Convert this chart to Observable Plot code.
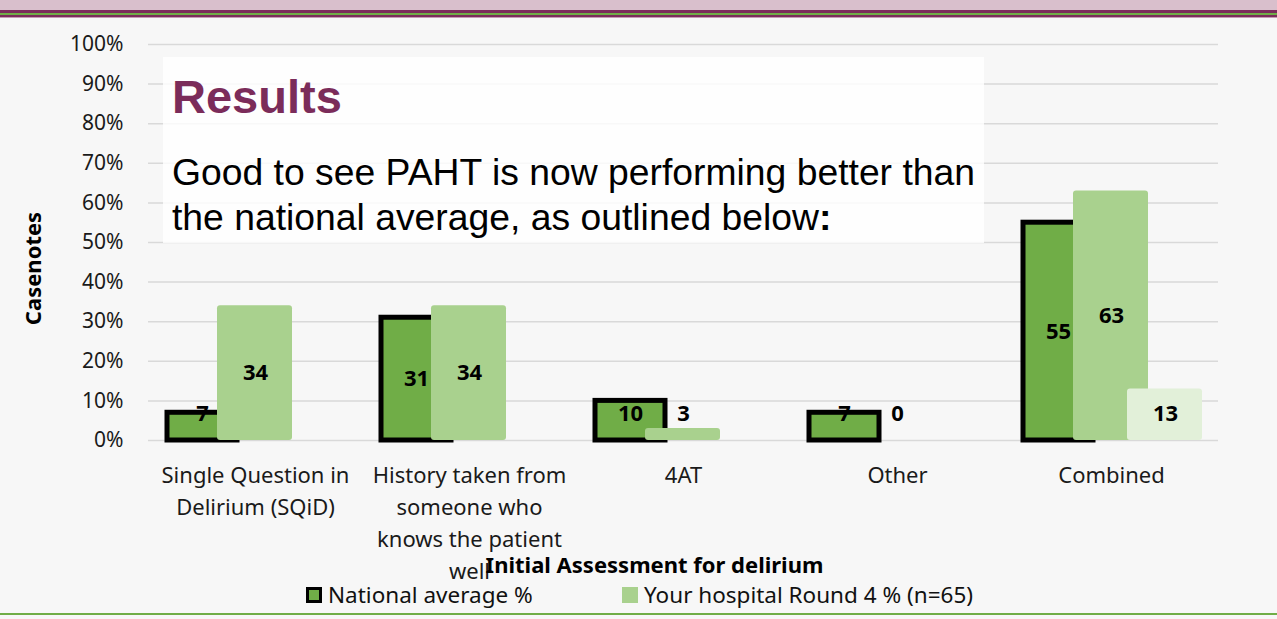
<!DOCTYPE html>
<html><head><meta charset="utf-8">
<script src="https://cdn.jsdelivr.net/npm/d3@7"></script>
<script src="https://cdn.jsdelivr.net/npm/@observablehq/plot@0.6"></script>
<style>
html,body{margin:0;padding:0;background:#f7f7f7;}
#wrap{position:relative;width:1277px;height:619px;overflow:hidden;background:#f7f7f7;font-family:"Noto Sans",sans-serif;color:#1a1a1a;}
#chart{position:absolute;left:0;top:0;}
#band{position:absolute;left:0;top:0;width:1277px;height:19px;
 background:linear-gradient(to bottom,#d9bfcc 0,#d9bfcc 10px,#7b2c5a 10px,#7b2c5a 13px,#70ad47 13px,#70ad47 15px,#7b2c5a 15px,#7b2c5a 17px,#c59ab2 17px,#c59ab2 18.5px,transparent 18.5px);}
#bottomline{position:absolute;left:0;top:612.5px;width:1277px;height:2.5px;background:#70ad47;}
#overlay{position:absolute;left:163px;top:57px;}
#legend{position:absolute;top:582.5px;left:0;width:1277px;height:24px;font-size:22.5px;line-height:24px;color:#111;}
.li{position:absolute;top:0;display:flex;align-items:center;white-space:nowrap;}
.sw{display:inline-block;width:16px;height:16px;box-sizing:border-box;margin-right:6px;}
</style></head><body>
<div id="wrap">
 <div id="chart"></div>
 <div id="band"></div>
 <svg id="overlay" width="821" height="186">
  <rect x="0" y="0" width="821" height="186" fill="#ffffff" fill-opacity="0.82"></rect>
  <text x="9" y="56" font-family="Liberation Sans, Arial, sans-serif" font-weight="bold" font-size="47" fill="#7b2c5a">Results</text>
  <text x="9" y="128" font-family="Liberation Sans, Arial, sans-serif" font-size="37.3" fill="#000">Good to see PAHT is now performing better than</text>
  <text x="9" y="173" font-family="Liberation Sans, Arial, sans-serif" font-size="37.3" fill="#000">the national average, as outlined below<tspan font-weight="bold">:</tspan></text>
 </svg>
 <div id="legend"></div>
 <div id="bottomline"></div>
</div>
<script>
// ---- data ----
const categories = ["SQiD", "History", "4AT", "Other", "Combined"];
const tickLabels = [
  "Single Question in\nDelirium (SQiD)",
  "History taken from\nsomeone who\nknows the patient\nwell",
  "4AT",
  "Other",
  "Combined"
];
const national = [7, 31, 10, 7, 55];
const hospital = [34, 34, 3, 0, 63];
const combinedExtra = [null, null, null, null, 13];
const yTicks = [0, 10, 20, 30, 40, 50, 60, 70, 80, 90, 100];
const seriesNames = ["National average %", "Your hospital Round 4 % (n=65)"];
const xTitle = "Initial Assessment for delirium";
const yTitle = "Casenotes";

// ---- build ----
const rows = (vals) => categories.map((c, i) => ({cat: c, v: vals[i]})).filter(d => d.v != null);
const nat = rows(national), hos = rows(hospital), ext = rows(combinedExtra);
const labelY = d => Math.max(d.v / 2, 6.6);
const lab = {fontWeight: "bold", fontSize: 22, fill: "#000", text: d => String(d.v), y: labelY, x: "cat"};

const chart = Plot.plot({
  width: 1277, height: 578,
  marginLeft: 148, marginRight: 59, marginTop: 44, marginBottom: 138,
  style: {background: "transparent", fontFamily: "Noto Sans", color: "#1a1a1a", overflow: "visible"},
  x: {domain: categories, padding: 0, label: null},
  y: {domain: [0, 100], label: null},
  marks: [
    Plot.ruleY(yTicks, {stroke: "#d9d9d9", strokeWidth: 1.5}),
    Plot.axisY({ticks: yTicks, tickSize: 0, tickPadding: 25, tickFormat: d => d + "%", fontSize: 21, label: null}),
    Plot.axisX({tickSize: 0, tickPadding: 19.5, tickFormat: d => tickLabels[categories.indexOf(d)], fontSize: 22, lineHeight: 1.4545, label: null}),
    Plot.barY(nat, {x: "cat", y: "v", fill: "#70ad47", stroke: "#000", strokeWidth: 5, insetLeft: 19, insetRight: 125}),
    Plot.barY(hos, {x: "cat", y: "v", fill: "#a9d18e", rx: 3, insetLeft: 69, insetRight: 70}),
    Plot.barY(ext, {x: "cat", y: "v", fill: "#e2f0d9", rx: 3, insetLeft: 123, insetRight: 16}),
    Plot.text(nat, {...lab, dx: -53}),
    Plot.text(hos, {...lab, dx: 0}),
    Plot.text(ext, {...lab, dx: 54}),
    Plot.text([xTitle], {frameAnchor: "bottom", textAnchor: "middle", lineAnchor: "middle", dx: -29, dy: 125, fontWeight: "bold", fontSize: 22, fill: "#000"}),
    Plot.text([yTitle], {frameAnchor: "left", textAnchor: "middle", lineAnchor: "middle", rotate: -90, dx: -115, dy: 26, fontWeight: "bold", fontSize: 22, fill: "#000"})
  ]
});
document.getElementById("chart").appendChild(chart);

// legend
const legend = document.getElementById("legend");
const items = [
  {name: seriesNames[0], left: 306, style: "background:#70ad47;border:3px solid #000;"},
  {name: seriesNames[1], left: 622, style: "background:#a9d18e;"}
];
for (const it of items) {
  const el = document.createElement("div");
  el.className = "li";
  el.style.left = it.left + "px";
  el.innerHTML = `<span class="sw" style="${it.style}"></span><span>${it.name}</span>`;
  legend.appendChild(el);
}
</script>
</body></html>
